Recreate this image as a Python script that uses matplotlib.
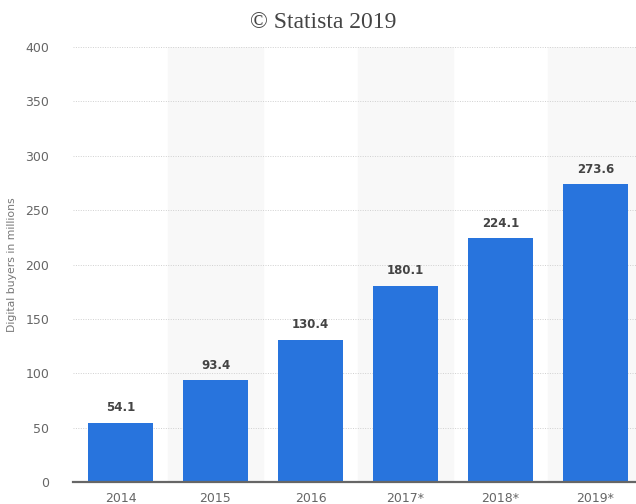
import matplotlib.pyplot as plt

years = ['2014', '2015', '2016', '2017*', '2018*', '2019*']
buyers = [54.1, 93.4, 130.4, 180.1, 224.1, 273.6]
yticks = [0, 50, 100, 150, 200, 250, 300, 350, 400]

fig = plt.figure(figsize=(6.36, 5.04), dpi=100)
ax = fig.add_axes([73 / 636, 22 / 504, 570 / 636, 435 / 504])

x = range(len(years))
# alternating light bands behind every other category
for i in x:
    if i % 2 == 1:
        ax.axvspan(i - 0.5, i + 0.5, color='#f8f8f8', zorder=0)

bars = ax.bar(x, buyers, width=0.69, color='#2874dd', zorder=2)
for bar, v in zip(bars, buyers):
    ax.text(bar.get_x() + bar.get_width() / 2, v + 8, f'{v:.1f}',
            ha='center', va='bottom', fontsize=8.5, fontweight='bold', color='#444444')

ax.set_xlim(-0.5, len(years) - 0.5)
ax.set_ylim(0, 400)
ax.set_yticks(yticks)
ax.set_xticks(list(x))
ax.set_xticklabels(years)
ax.yaxis.grid(True, linestyle=(0, (1, 1.5)), color='#d0d0d0', linewidth=0.7, zorder=1)
ax.set_axisbelow(True)

for s in ['top', 'right', 'left']:
    ax.spines[s].set_visible(False)
ax.spines['bottom'].set_color('#666666')
ax.spines['bottom'].set_linewidth(1.6)
ax.spines['bottom'].set_zorder(3)
ax.tick_params(axis='both', length=0, labelsize=9, colors='#666666')
ax.tick_params(axis='y', pad=17)
ax.tick_params(axis='x', pad=7)

ax.set_ylabel('Digital buyers in millions', fontsize=7.8, color='#777777')
ax.yaxis.set_label_coords(-0.098, 0.5)
fig.text(323 / 636, 1 - 22 / 504, '© Statista 2019', ha='center', va='center',
         fontsize=17, family='Liberation Serif', color='#444444')

plt.savefig('out.png', dpi=100)
